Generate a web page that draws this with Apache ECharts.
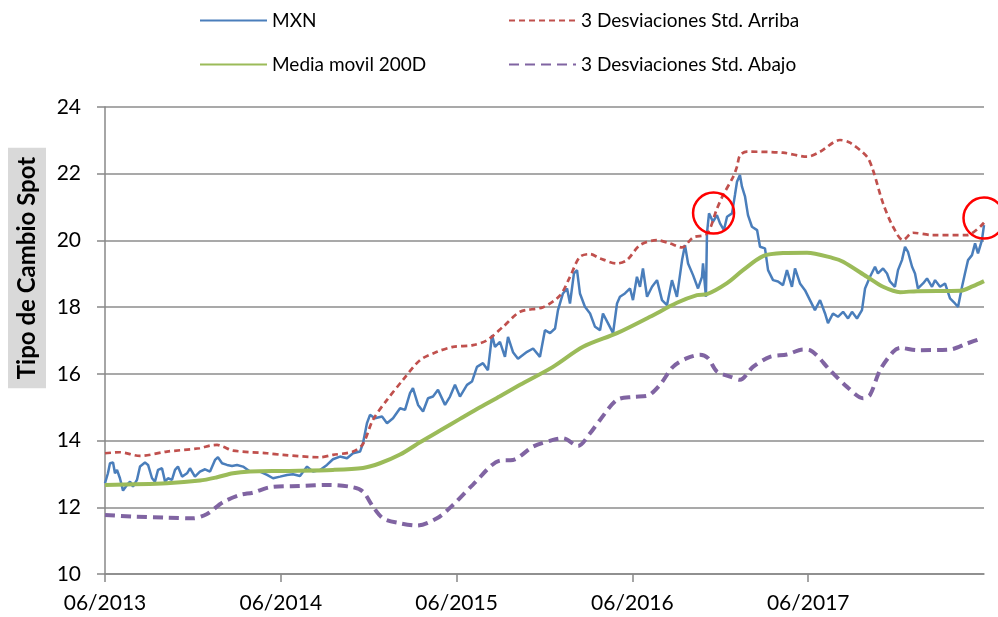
<!DOCTYPE html>
<html>
<head>
<meta charset="utf-8">
<script src="https://cdn.jsdelivr.net/npm/echarts@6/dist/echarts.min.js"></script>
<style>html,body{margin:0;padding:0;background:#fff;}#chart{width:998px;height:617px;}</style>
</head>
<body>
<div id="chart"></div>
<script>
// x values are months elapsed since 06/2013
const xTickLabels = ['06/2013', '06/2014', '06/2015', '06/2016', '06/2017', '06/2018'];
const yTicks = [10, 12, 14, 16, 18, 20, 22, 24];

const mxn = [[0,12.72],[0.2,13.02],[0.34,13.32],[0.55,13.34],[0.68,13.02],[0.82,13.12],[1.02,12.87],[1.23,12.5],[1.5,12.67],[1.71,12.77],[1.91,12.62],[2.18,12.82],[2.39,13.22],[2.73,13.34],[2.94,13.27],[3.21,12.87],[3.41,12.77],[3.62,13.12],[3.89,13.17],[4.1,12.77],[4.3,12.87],[4.57,12.82],[4.78,13.12],[4.98,13.22],[5.26,12.92],[5.6,13.02],[5.8,13.17],[6.14,12.92],[6.48,13.07],[6.83,13.14],[7.17,13.07],[7.51,13.42],[7.71,13.5],[7.99,13.32],[8.33,13.27],[8.67,13.24],[9.01,13.27],[9.42,13.22],[9.9,13.07],[10.58,13.07],[11.06,12.97],[11.47,12.87],[11.95,12.92],[12.42,12.97],[12.83,12.99],[13.31,12.94],[13.79,13.22],[14.2,13.07],[14.68,13.12],[15.15,13.27],[15.56,13.44],[16.04,13.52],[16.52,13.47],[16.93,13.62],[17.41,13.67],[17.61,13.92],[17.88,14.52],[18.09,14.77],[18.43,14.67],[18.91,14.72],[19.25,14.52],[19.66,14.67],[20.14,14.97],[20.48,14.92],[20.82,15.42],[21.02,15.57],[21.37,15.07],[21.71,14.87],[22.05,15.27],[22.39,15.32],[22.73,15.52],[23.21,15.07],[23.55,15.32],[23.89,15.67],[24.23,15.32],[24.71,15.67],[25.05,15.77],[25.39,16.21],[25.8,16.32],[26.14,16.11],[26.42,17.16],[26.62,16.81],[26.96,16.96],[27.3,16.51],[27.51,17.11],[27.85,16.65],[28.19,16.45],[28.81,16.66],[29.22,16.76],[29.69,16.51],[30.03,17.31],[30.38,17.22],[30.72,17.36],[30.92,17.91],[31.26,18.41],[31.54,18.56],[31.74,18.11],[32.01,19.01],[32.22,19.11],[32.42,18.41],[32.76,18.01],[33.11,17.81],[33.45,17.41],[33.79,17.31],[33.99,17.81],[34.33,17.52],[34.68,17.22],[34.95,18.11],[35.15,18.31],[35.49,18.41],[35.84,18.56],[36.04,18.21],[36.31,18.91],[36.52,18.61],[36.72,19.16],[37.0,18.31],[37.34,18.61],[37.68,18.81],[38.02,18.21],[38.36,18.06],[38.7,18.81],[39.04,18.31],[39.39,19.41],[39.59,19.86],[39.8,19.31],[40.14,18.96],[40.48,18.56],[40.75,18.91],[40.82,19.31],[41.02,18.31],[41.09,20.21],[41.23,20.81],[41.5,20.56],[41.77,20.76],[41.98,20.51],[42.25,20.31],[42.46,20.71],[42.8,20.81],[43.0,21.36],[43.14,21.76],[43.34,21.96],[43.48,21.61],[43.69,21.31],[43.89,20.76],[44.16,20.41],[44.51,20.31],[44.71,19.81],[45.05,19.76],[45.26,19.11],[45.6,18.81],[45.94,18.77],[46.28,18.66],[46.55,19.11],[46.89,18.61],[47.1,19.16],[47.44,18.71],[47.78,18.51],[48.12,18.21],[48.46,17.91],[48.81,18.21],[49.15,17.81],[49.35,17.52],[49.69,17.81],[50.03,17.71],[50.38,17.86],[50.72,17.66],[50.99,17.86],[51.33,17.66],[51.67,17.91],[51.88,18.56],[52.22,18.91],[52.56,19.21],[52.76,19.01],[53.11,19.16],[53.38,19.01],[53.58,18.77],[53.92,18.61],[54.13,19.11],[54.4,19.41],[54.61,19.81],[54.81,19.66],[55.09,19.21],[55.29,19.01],[55.49,18.56],[55.84,18.71],[56.11,18.86],[56.45,18.61],[56.66,18.81],[57.0,18.61],[57.34,18.71],[57.68,18.26],[58.02,18.11],[58.23,18.01],[58.5,18.61],[58.7,19.01],[58.91,19.41],[59.18,19.56],[59.39,19.91],[59.59,19.61],[59.86,20.01],[60,20.46]];

const media200 = [[0,12.67],[4.23,12.72],[6.48,12.8],[7.65,12.9],[8.74,13.02],[9.9,13.07],[12.15,13.09],[15.56,13.12],[17.61,13.18],[18.77,13.32],[20.14,13.58],[21.5,13.95],[22.87,14.3],[24.23,14.65],[25.6,15.0],[26.96,15.33],[28.33,15.67],[30.58,16.21],[32.63,16.81],[34.95,17.22],[37.2,17.71],[39.04,18.13],[40.41,18.36],[41.09,18.39],[42.46,18.72],[43.55,19.11],[44.92,19.53],[46.28,19.62],[47.92,19.63],[49.69,19.47],[50.38,19.36],[52.01,18.91],[53.11,18.61],[54.27,18.45],[55.43,18.48],[58.36,18.49],[59.25,18.63],[60,18.78]];

const bandArriba = [[0,13.62],[1.02,13.65],[2.39,13.54],[4.23,13.67],[6.48,13.77],[7.17,13.85],[7.65,13.87],[8.05,13.82],[8.74,13.7],[11.06,13.62],[12.15,13.57],[14.68,13.5],[15.56,13.57],[16.93,13.67],[17.61,13.9],[18.29,14.62],[19.25,15.22],[20.34,15.82],[21.5,16.41],[22.66,16.66],[23.75,16.81],[25.12,16.86],[26.08,17.01],[27.17,17.41],[28.33,17.86],[29.9,18.0],[31.06,18.35],[31.74,18.91],[32.42,19.51],[33.11,19.59],[33.79,19.46],[34.95,19.31],[35.63,19.41],[36.52,19.86],[37.68,20.01],[38.57,19.91],[39.39,19.79],[40.14,20.09],[41.09,20.2],[41.77,20.95],[42.18,21.35],[42.87,21.9],[43.14,22.21],[43.34,22.55],[43.82,22.66],[46.28,22.63],[47.92,22.51],[48.81,22.66],[50.17,23.01],[50.85,22.93],[52.01,22.51],[52.42,22.11],[53.11,21.11],[53.79,20.41],[54.47,20.01],[55.15,20.23],[56.52,20.16],[58.84,20.16],[60,20.53]];

const bandAbajo = [[0,11.77],[1.91,11.72],[4.23,11.69],[6.01,11.67],[6.96,11.8],[8.05,12.15],[9.22,12.37],[10.1,12.44],[11.26,12.6],[13.31,12.64],[15.36,12.67],[16.93,12.6],[17.61,12.47],[18.29,12.02],[18.98,11.67],[20.14,11.52],[21.3,11.45],[22.66,11.67],[23.75,12.07],[25.12,12.68],[26.96,13.4],[27.85,13.42],[29.22,13.82],[30.58,14.02],[31.26,14.07],[32.29,13.84],[33.11,14.22],[33.79,14.62],[34.95,15.22],[36.04,15.31],[37.0,15.34],[37.88,15.67],[38.77,16.21],[39.73,16.47],[40.61,16.57],[41.16,16.47],[41.77,16.07],[42.66,15.92],[43.34,15.82],[44.23,16.21],[45.39,16.51],[46.55,16.58],[47.65,16.73],[48.12,16.71],[49.49,16.11],[50.65,15.61],[51.74,15.27],[52.22,15.37],[52.9,16.11],[53.79,16.66],[54.27,16.78],[55.43,16.71],[57.68,16.73],[58.84,16.91],[59.86,17.07]];

// highlighted points (circled in red)
const highlights = [[41.54, 20.82], [60, 20.67]];

const FONT = 'Lato';
const chart = echarts.init(document.getElementById('chart'), null, {renderer: 'canvas'});
const legendBase = {
  orient: 'horizontal', itemWidth: 67, itemHeight: 14, itemGap: 10,
  textStyle: {fontFamily: FONT, fontSize: 19, color: '#000'},
  itemStyle: {color: 'rgba(0,0,0,0)', borderWidth: 0},
  selectedMode: false
};
chart.setOption({
  backgroundColor: '#fff',
  animation: false,
  textStyle: {fontFamily: FONT},
  grid: {left: 105, right: 14, top: 107, bottom: 43},
  legend: [
    Object.assign({}, legendBase, {data: ['MXN'], left: 194, top: 6}),
    Object.assign({}, legendBase, {data: ['Media movil 200D'], left: 194, top: 50}),
    Object.assign({}, legendBase, {data: ['3 Desviaciones Std. Arriba'], left: 503, top: 6}),
    Object.assign({}, legendBase, {data: ['3 Desviaciones Std. Abajo'], left: 503, top: 50})
  ],
  graphic: [{
    type: 'text',
    x: 27, y: 268,
    rotation: Math.PI / 2,
    style: {
      text: 'Tipo de Cambio Spot',
      font: 'bold 24px ' + FONT,
      fill: '#000',
      align: 'center',
      verticalAlign: 'middle',
      backgroundColor: '#d9d9d9',
      padding: [8, 9, 6, 9]
    }
  }],
  xAxis: {
    type: 'value', min: 0, max: 60, interval: 12,
    axisLine: {show: true, lineStyle: {color: '#888', width: 1.5}},
    axisTick: {show: true, length: 8, lineStyle: {color: '#888', width: 1.5}},
    splitLine: {show: false},
    axisLabel: {
      fontFamily: FONT, fontSize: 21, color: '#000', margin: 19,
      formatter: v => xTickLabels[Math.round(v / 12)],
      showMaxLabel: false
    }
  },
  yAxis: {
    type: 'value', min: yTicks[0], max: yTicks[yTicks.length - 1], interval: 2,
    axisLine: {show: true, lineStyle: {color: '#888', width: 1.5}},
    axisTick: {show: true, length: 8, lineStyle: {color: '#888', width: 1.5}},
    splitLine: {show: true, lineStyle: {color: '#8c8c8c', width: 1.5}},
    axisLabel: {fontFamily: FONT, fontSize: 21, color: '#000', margin: 24}
  },
  series: [
    {
      name: 'MXN', type: 'line', data: mxn, showSymbol: false, symbol: 'none',
      lineStyle: {color: '#4a7ebb', width: 2.5}, itemStyle: {color: '#4a7ebb'},
      z: 2,
      markPoint: {
        symbol: 'circle', symbolSize: 41, silent: true,
        itemStyle: {color: 'rgba(0,0,0,0)', borderColor: '#ff0000', borderWidth: 2.5},
        label: {show: false},
        data: highlights.map(p => ({coord: p}))
      }
    },
    {
      name: '3 Desviaciones Std. Arriba', type: 'line', data: bandArriba, smooth: 0.3, symbol: 'none',
      lineStyle: {color: '#c0504d', width: 2.7, type: [6, 4]}, itemStyle: {color: '#c0504d'}, z: 3
    },
    {
      name: 'Media movil 200D', type: 'line', data: media200, smooth: 0.3, symbol: 'none',
      lineStyle: {color: '#9bbb59', width: 4}, itemStyle: {color: '#9bbb59'}, z: 3
    },
    {
      name: '3 Desviaciones Std. Abajo', type: 'line', data: bandAbajo, smooth: 0.3, symbol: 'none',
      lineStyle: {color: '#8064a2', width: 4, type: [10, 6]}, itemStyle: {color: '#8064a2'}, z: 3
    }
  ]
});
</script>
</body>
</html>
